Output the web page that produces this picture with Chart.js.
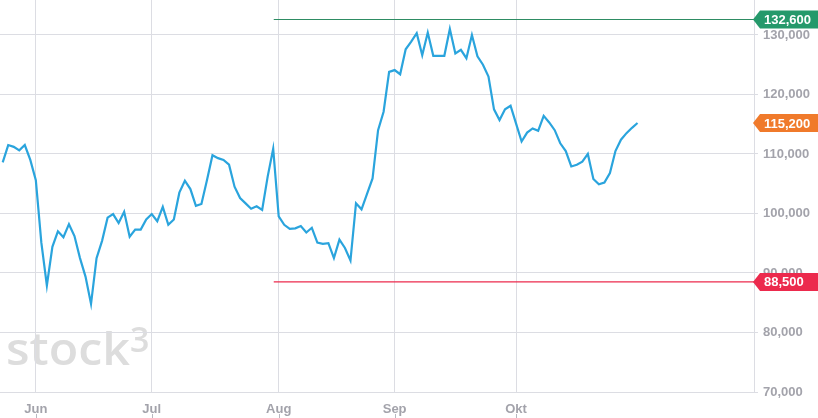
<!DOCTYPE html>
<html>
<head>
<meta charset="utf-8">
<script src="https://cdn.jsdelivr.net/npm/chart.js@4"></script>
<style>
  html,body{margin:0;padding:0;background:#fff;}
  canvas{display:block;}
</style>
</head>
<body>
<canvas id="c" width="818" height="418"></canvas>
<script>
/* ---- data: daily closes, 23 May .. 31 Oct (trading days) ---- */
const closes = [
  108600,111500,111200,110600,111500,109000,
  105600,95100,87900,94400,97000,96000,98200,96200,92500,89400,84800,92500,95400,99300,99900,98400,100300,96100,97300,97300,99000,
  99900,98700,101100,98100,99000,103500,105500,104100,101300,101600,105600,109800,109300,109000,108200,104500,102600,101700,100800,101200,100600,106200,110900,
  99500,98100,97400,97500,97900,96800,97600,95100,94900,95000,92500,95600,94200,92100,101700,100700,103300,105900,114000,117100,123800,
  124100,123400,127600,128900,130300,126600,130400,126500,126500,126500,131000,126900,127500,126100,130000,126400,125000,123000,117500,115700,117500,118100,
  115100,112100,113600,114300,113900,116400,115300,114000,111800,110500,107900,108200,108700,110000,105800,104900,105200,106800,110500,112400,113500,114400,115200
];

/* month labels at first trading day index */
const monthLabels = ['Jun','Jul','Aug','Sep','Okt'];
const monthIdx    = [6,27,50,71,93];

/* y ticks */
const yTicks = [70000,80000,90000,100000,110000,120000,130000];

/* high / low markers and last price */
const hiLevel = 132600, loLevel = 88500, levelFrom = 49.1;
const lastPrice = closes[closes.length-1];

const X_MIN = -0.49, X_MAX = 136.1;
const Y_MIN = 70000, Y_MAX = 135877;

const GRID = '#dcdde3';
const TXT  = '#a3a3ab';
const fmt  = v => v.toLocaleString('en-US');

/* ---- plugins ---- */
const watermark = {
  id:'watermark',
  beforeDraw(ch){
    const ctx = ch.ctx;
    ctx.save();
    ctx.fillStyle = '#dddddd';
    ctx.font = '600 45px "Open Sans"';
    ctx.textBaseline = 'alphabetic';
    const w = ctx.measureText('stock').width;
    ctx.translate(6,365);
    ctx.scale(124/w,1);
    ctx.fillText('stock',0,0);
    ctx.restore();
    ctx.save();
    ctx.fillStyle = '#dddddd';
    ctx.font = '600 34px "Open Sans"';
    ctx.fillText('3',130,352);
    ctx.restore();
  }
};

const extras = {
  id:'extras',
  afterDraw(ch){
    const ctx = ch.ctx, xs = ch.scales.x, ys = ch.scales.y;
    // small ticks under month labels
    ctx.save();
    ctx.strokeStyle = '#b8b8c0';
    ctx.lineWidth = 1;
    monthIdx.forEach(i=>{
      const px = Math.round(xs.getPixelForValue(i))+0.5;
      ctx.beginPath(); ctx.moveTo(px,414); ctx.lineTo(px,418); ctx.stroke();
    });
    ctx.restore();
    // price tags
    const tags = [[hiLevel,'#25996b'],[lastPrice,'#f07a2b'],[loLevel,'#ec2a4d']];
    const x0 = ys.left;
    tags.forEach(([v,col])=>{
      const y = ys.getPixelForValue(v);
      ctx.save();
      ctx.fillStyle = col;
      ctx.beginPath();
      ctx.moveTo(x0-1,y);
      ctx.lineTo(x0+6,y-9);
      ctx.lineTo(ch.width,y-9);
      ctx.lineTo(ch.width,y+9);
      ctx.lineTo(x0+6,y+9);
      ctx.closePath();
      ctx.fill();
      ctx.fillStyle = '#fff';
      ctx.font = 'bold 13px "Liberation Sans", Arial';
      ctx.textBaseline = 'middle';
      ctx.fillText(fmt(v), x0+10, y+1);
      ctx.restore();
    });
  }
};

/* ---- chart ---- */
new Chart(document.getElementById('c'),{
  type:'line',
  data:{
    datasets:[
      {data:closes.map((v,i)=>({x:i,y:v})),borderColor:'#2aa4dd',borderWidth:2.2,pointRadius:0,tension:0},
      {data:[{x:levelFrom,y:hiLevel},{x:X_MAX,y:hiLevel}],borderColor:'#2e8c63',borderWidth:1.2,pointRadius:0},
      {data:[{x:levelFrom,y:loLevel},{x:X_MAX,y:loLevel}],borderColor:'#ec2a4d',borderWidth:1.2,pointRadius:0}
    ]
  },
  options:{
    responsive:false,
    animation:false,
    devicePixelRatio:1,
    layout:{padding:0},
    plugins:{legend:{display:false},tooltip:{enabled:false}},
    scales:{
      x:{
        type:'linear', min:X_MIN, max:X_MAX,
        afterBuildTicks:s=>{ s.ticks = monthIdx.map(v=>({value:v})); },
        afterFit:s=>{ s.height = 26; s.paddingLeft = 0; s.paddingRight = 0; },
        grid:{color:GRID,drawTicks:false},
        border:{color:GRID},
        ticks:{
          autoSkip:false,maxRotation:0,padding:10,color:TXT,
          font:{family:'"Liberation Sans", Arial',size:13,weight:'bold'},
          callback:v=>monthLabels[monthIdx.indexOf(v)] ?? ''
        }
      },
      y:{
        position:'right', min:Y_MIN, max:Y_MAX,
        afterBuildTicks:s=>{ s.ticks = yTicks.map(v=>({value:v})); },
        afterFit:s=>{ s.width = 64; s.paddingTop = 0; s.paddingBottom = 0; },
        grid:{color:GRID,tickLength:4},
        border:{color:GRID},
        ticks:{
          padding:5,color:TXT,
          font:{family:'"Liberation Sans", Arial',size:13,weight:'bold'},
          callback:v=>fmt(v)
        }
      }
    }
  },
  plugins:[watermark,extras]
});
</script>
</body>
</html>
